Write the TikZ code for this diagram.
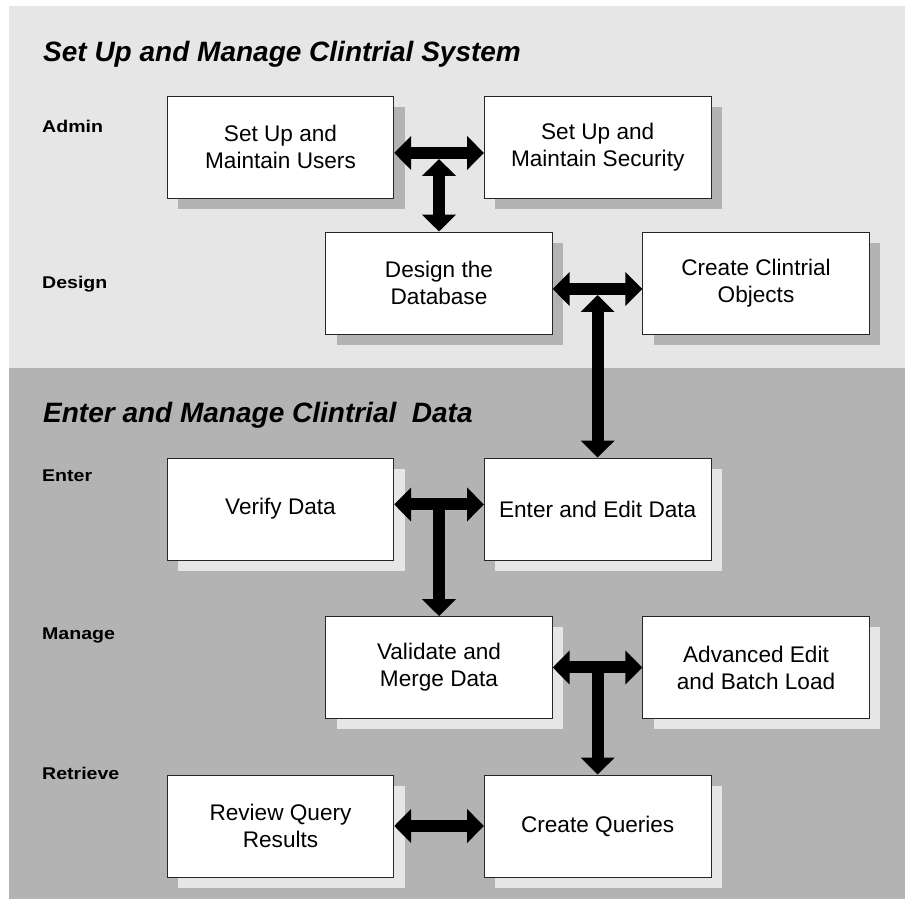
\documentclass[tikz,border=0pt]{standalone}
\usepackage{fontspec}
\setmainfont{Liberation Sans}
\usetikzlibrary{arrows.meta,shadows}
\definecolor{bglight}{HTML}{E6E6E6}
\definecolor{bgdark}{HTML}{B3B3B3}
\begin{document}
\begin{tikzpicture}[x=1pt,y=1pt,
  >={Triangle[width=33pt,length=17pt]},
  box/.style={draw=black!85, line width=0.9pt, fill=white,
    minimum width=226.5pt, minimum height=102pt, inner sep=0pt,
    align=center, font=\fontsize{22.6}{27.1}\selectfont},
  shup/.style={drop shadow={shadow xshift=11pt,shadow yshift=-11pt,fill=bgdark,opacity=1}},
  shlo/.style={drop shadow={shadow xshift=11pt,shadow yshift=-11pt,fill=bglight,opacity=1}},
  bigarrow/.style={line width=12pt, black},
  ttl/.style={anchor=base west, inner sep=0pt, font=\fontsize{28}{32}\selectfont\bfseries\itshape},
  lab/.style={anchor=base west, inner sep=0pt, font=\fontsize{17}{20}\selectfont\bfseries}
]
\useasboundingbox (0,0) rectangle (912,904);
% backgrounds
\fill[bglight] (9,898) rectangle (905,536);
\fill[bgdark] (9,536) rectangle (905,5);

% titles
\node[ttl] (t1) at (43,842) {Set Up and Manage Clintrial System};
\node[ttl] (t2) at (43,481) {Enter and Manage Clintrial\ \ Data};

% row labels
\node[lab] (ladmin) at (42,771) {\scalebox{1.15}[1]{Admin}};
\node[lab] (ldesign) at (42,615) {\scalebox{1.15}[1]{Design}};
\node[lab] (lenter) at (42,422) {\scalebox{1.15}[1]{Enter}};
\node[lab] (lmanage) at (42,264) {\scalebox{1.15}[1]{Manage}};
\node[lab] (lretrieve) at (42,124) {\scalebox{1.15}[1]{Retrieve}};

% boxes
\node[box,shup] (users) at (280.5,757) {Set Up and\\Maintain Users};
\node[box,shup] (sec) at (597.7,757) {Set Up and\\Maintain Security};
\node[box,shup] (design) at (439,621) {Design the\\Database};
\node[box,shup] (objects) at (756,621) {Create Clintrial\\Objects};
\node[box,shlo] (verify) at (280.5,395) {Verify Data};
\node[box,shlo] (enter) at (597.7,395) {Enter and Edit Data};
\node[box,shlo] (validate) at (439,236.5) {Validate and\\Merge Data};
\node[box,shlo] (advanced) at (756,236.5) {Advanced Edit\\and Batch Load};
\node[box,shlo] (review) at (280.5,78) {Review Query\\Results};
\node[box,shlo] (queries) at (597.7,78) {Create Queries};

% junction coordinates
\coordinate (j1) at (439,745);
\coordinate (j2) at (597.7,609);
\coordinate (j3) at (439,399.5);
\coordinate (j4) at (597.7,236.5);

% arrows
\draw[bigarrow,<->] ([yshift=-6pt]users.east) -- ([yshift=-6pt]sec.west);
\draw[bigarrow,<->] (j1) -- (design.north);
\draw[bigarrow,<->] ([yshift=-6pt]design.east) -- ([yshift=-6pt]objects.west);
\draw[bigarrow,<->] (j2) -- (enter.north);
\draw[bigarrow,<->] ([yshift=4.5pt]verify.east) -- ([yshift=4.5pt]enter.west);
\draw[bigarrow,->] (j3) -- (validate.north);
\draw[bigarrow,<->] (validate.east) -- (advanced.west);
\draw[bigarrow,->] (j4) -- (queries.north);
\draw[bigarrow,<->] (review.east) -- (queries.west);
\end{tikzpicture}
\end{document}
